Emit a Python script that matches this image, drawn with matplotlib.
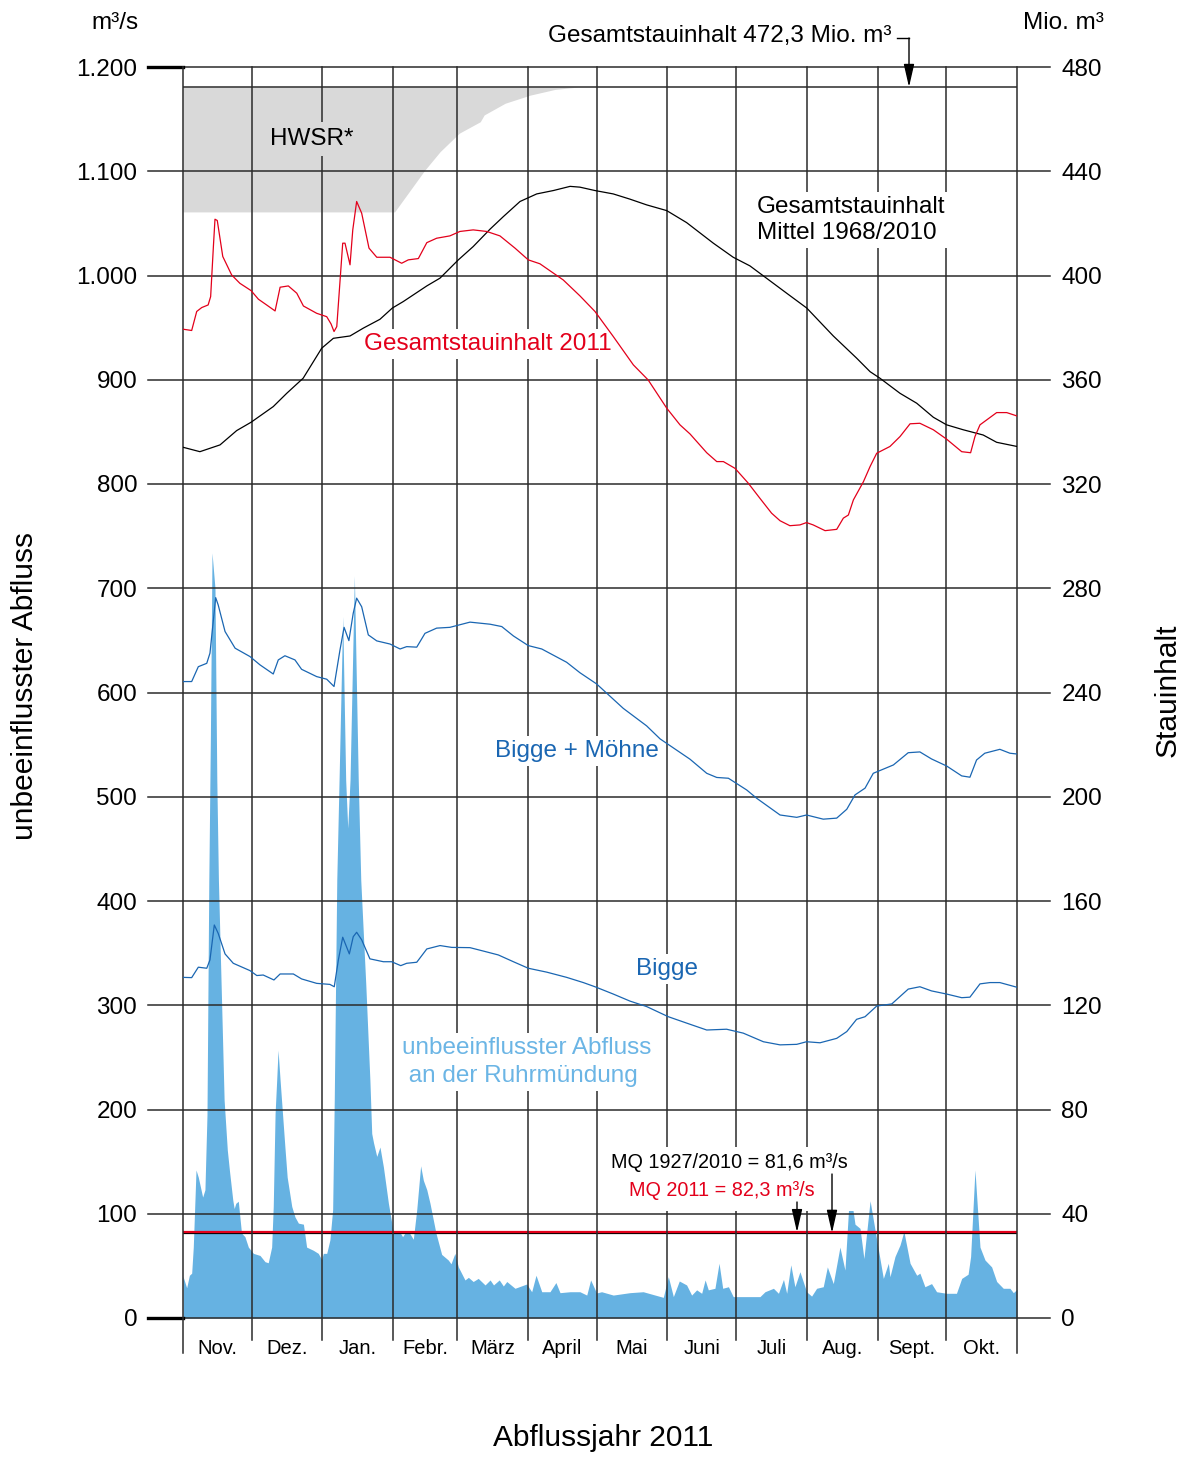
import numpy as np
import matplotlib
matplotlib.use('Agg')
import matplotlib.pyplot as plt
from matplotlib.transforms import Affine2D, blended_transform_factory
from matplotlib.patches import Rectangle

plt.rcParams['font.family'] = ['Liberation Sans', 'DejaVu Sans']

W, H, DPI = 1192, 1457, 100

# ---------------- data ----------------
months = ['Nov.', 'Dez.', 'Jan.', 'Febr.', 'März', 'April', 'Mai', 'Juni',
          'Juli', 'Aug.', 'Sept.', 'Okt.']
month_lengths = [30, 31, 31, 28, 31, 30, 31, 30, 31, 31, 30, 31]

q_ticks = [0, 100, 200, 300, 400, 500, 600, 700, 800, 900, 1000, 1100, 1200]
q_tick_labels = ['0', '100', '200', '300', '400', '500', '600', '700', '800',
                 '900', '1.000', '1.100', '1.200']
v_ticks = [0, 40, 80, 120, 160, 200, 240, 280, 320, 360, 400, 440, 480]
v_tick_labels = ['0', '40', '80', '120', '160', '200', '240', '280', '320',
                 '360', '400', '440', '480']

total_capacity = 472.3   # Mio. m3
mq_longterm = 81.6       # m3/s
mq_2011 = 82.3           # m3/s

# HWSR (flood protection space) lower boundary, Mio. m3
hwsr_days = [0, 92.6, 105.8, 112.5, 120.9, 130.1, 131.8, 141, 151.9, 162.8, 172.8]
hwsr_lower = [424.4, 424.4, 440.4, 447.5, 454.6, 459.0, 461.6, 466.1, 469.2, 471.4, 472.3]

# Gesamtstauinhalt Mittel 1968/2010 (Mio. m3)
mean_days = [0, 7.4, 16.2, 23.5, 29.8, 39.5, 45.4, 52.6, 60.7, 65.8, 73.1, 78.9, 86.2,
             91.6, 96.4, 106.7, 112.5, 120.5, 127.0, 134.4, 140.2, 147.5, 154.8, 162.1,
             169.4, 173.7, 180.3, 188.3, 195.6, 202.9, 211.7, 220.4, 232.1, 240.8, 248.1,
             264.2, 273.0, 284.6, 294.8, 300.7, 305.0, 313.8, 321.1, 328.4, 334.2, 341.5,
             350.2, 356.1, 365]
mean_vals = [334.1, 332.4, 335.0, 340.5, 343.7, 349.7, 354.8, 360.6, 372.1, 375.9, 376.8,
             379.8, 383.2, 387.5, 390.0, 396.0, 399.0, 406.0, 411.1, 417.8, 422.6, 428.4,
             431.3, 432.6, 434.2, 433.9, 432.6, 431.3, 429.3, 427.1, 424.9, 420.3, 412.4,
             407.0, 403.7, 393.2, 387.5, 376.8, 368.3, 363.1, 360.6, 354.8, 351.0, 345.6,
             342.7, 340.8, 338.8, 336.0, 334.4]

# Gesamtstauinhalt 2011 (Mio. m3)
red_days = [0, 3.8, 6, 8.2, 11, 12.1, 13.3, 14, 15, 17.4, 21.3, 24.9, 29.8, 33, 36.6,
            40.3, 42.5, 46.1, 49.8, 52.7, 58.5, 62.9, 64.8, 66.1, 67.3, 69.9, 70.9, 73.1,
            74.3, 76, 78.2, 81.4, 84.8, 90.6, 95.7, 98.6, 103, 106.7, 111, 116.8, 121.2,
            127, 132.9, 138.7, 145.3, 151.1, 156.2, 166.4, 173.7, 180.3, 188.3, 197.1,
            203.6, 211.7, 217.5, 221.9, 229.2, 233.6, 236.5, 241.6, 247.4, 252.5, 257.6,
            261.3, 265.6, 270, 272.9, 275.8, 281, 286.1, 289, 291.2, 293.4, 297.8, 300.7,
            303.6, 309.4, 313.8, 318.2, 322.5, 328.4, 334.2, 340.8, 344.7, 346.6, 348.8,
            356.1, 360.5, 365]
red_vals = [379.4, 378.9, 386.2, 387.7, 388.7, 391.9, 411.1, 421.6, 421.1, 407.3, 400.2,
            397.0, 394.2, 390.9, 388.7, 386.4, 395.5, 396.0, 393.2, 388.3, 385.5, 384.2,
            381.4, 378.5, 380.4, 412.4, 412.4, 404.1, 417.5, 428.4, 423.9, 410.5, 407.0,
            407.0, 404.7, 406.0, 406.5, 412.6, 414.3, 415.2, 416.9, 417.5, 416.9, 415.2,
            410.5, 406.0, 404.5, 398.3, 392.2, 386.2, 376.6, 365.7, 359.9, 349.1, 342.7,
            339.2, 332.0, 328.6, 328.6, 326.0, 320.3, 314.5, 308.8, 305.9, 304.0, 304.3,
            305.2, 304.3, 302.1, 302.6, 306.9, 308.1, 313.9, 320.9, 326.7, 331.8, 334.4,
            338.2, 343.1, 343.3, 340.8, 337.2, 332.4, 332.0, 338.2, 342.7, 347.4, 347.4,
            346.1]

# Bigge + Möhne (Mio. m3)
bm_days = [0, 3.8, 6.7, 10.4, 11.8, 13.3, 14.3, 15.4, 18.4, 22.8, 29.3, 33.7, 39.5, 41.7,
           44.6, 49, 51.9, 58.5, 62.9, 66.1, 68.7, 70.5, 72.6, 74.5, 76, 78.2, 81.1, 84.8,
           90.6, 95, 97.9, 102.3, 105.9, 111, 116.8, 125.6, 134.4, 139.5, 144.6, 151.1,
           157, 167.9, 173.7, 181, 192.7, 202.9, 208.8, 221.9, 229.2, 233.6, 238.7, 246.7,
           251.1, 261.3, 268.6, 272.9, 280.2, 286.1, 290.5, 294.1, 298.5, 302.1, 306.5,
           310.9, 317.4, 322.5, 327.6, 334.2, 340.8, 344.4, 347.3, 350.9, 357.5, 361.9, 365]
bm_vals = [244.2, 244.2, 249.9, 251.2, 255.1, 267.8, 276.4, 273.6, 263.4, 257.0, 253.8,
           250.6, 247.1, 252.5, 254.1, 252.5, 248.9, 246.1, 245.1, 242.3, 256.3, 265.0,
           259.9, 270.4, 276.2, 272.9, 262.1, 259.8, 258.6, 256.7, 257.6, 257.4, 262.7,
           264.7, 265.0, 267.0, 266.2, 265.3, 261.7, 258.0, 256.7, 251.6, 247.6, 243.3,
           233.9, 227.2, 222.2, 214.4, 209.0, 207.4, 207.1, 202.6, 199.4, 193.0, 192.1,
           193.0, 191.4, 191.8, 195.2, 200.7, 203.3, 209.0, 210.6, 212.2, 216.9, 217.2,
           214.5, 211.8, 208.0, 207.5, 214.1, 216.7, 218.2, 216.7, 216.4]

# Bigge (Mio. m3)
b_days = [0, 3.8, 6.7, 10.4, 11.8, 13.7, 15.4, 18.4, 22, 29.3, 32.3, 35.1, 39.8, 42.5,
          48.3, 51.9, 58.5, 64.3, 66.2, 68, 69.9, 72.8, 74.5, 76, 78.2, 81.8, 87.7, 91.3,
          95.3, 97.9, 102.3, 106.7, 112.5, 117.6, 125.6, 131.4, 138, 144.6, 151.1, 159.2,
          167.9, 175.2, 180.3, 188.3, 195.6, 202.9, 212.4, 221.9, 229.2, 237.9, 245.2,
          254, 261.3, 268.6, 272.9, 278.8, 286.1, 290.5, 294.8, 298.5, 303.6, 310.2,
          317.4, 322.5, 327.6, 334.2, 340.8, 344.4, 348.8, 353.2, 357.5, 365]
b_vals = [130.7, 130.6, 134.6, 134.2, 137.4, 150.8, 147.6, 139.7, 136.1, 133.3, 131.4,
          131.6, 129.7, 132.0, 132.0, 130.1, 128.4, 128.0, 127.1, 137.4, 146.1, 139.7,
          146.3, 148.0, 145.1, 137.8, 136.7, 136.7, 135.2, 136.1, 136.5, 141.6, 142.9,
          142.2, 142.1, 140.8, 139.3, 136.7, 134.2, 132.7, 130.7, 128.7, 127.1, 124.3,
          121.6, 119.5, 115.6, 112.7, 110.5, 110.8, 109.3, 106.0, 104.8, 105.0, 106.0,
          105.6, 107.3, 109.9, 114.6, 115.6, 119.7, 120.5, 126.2, 127.1, 125.5, 124.3,
          122.9, 123.1, 128.2, 128.7, 128.7, 126.9]

# unbeeinflusster Abfluss an der Ruhrmündung (m3/s)
q_days = [0, 1.6, 2.8, 3.8, 4.5, 5.7, 6.7, 8.6, 9.6, 10.5, 11.3, 12.0, 12.7, 14.0, 14.8,
          15.5, 18.0, 19.4, 20.4, 21.8, 22.4, 23.1, 24.2, 25.6, 27.1, 28.6, 30.8, 33.7,
          35.9, 37.3, 38.8, 39.5, 40.3, 41.0, 41.6, 42.5, 44.6, 45.6, 47.6, 49.0, 50.5,
          52.7, 54.1, 57.0, 59.2, 60.7, 61.4, 62.9, 64.3, 65.5, 66.2, 67.3, 68.3, 69.9,
          71.2, 72.1, 73.1, 75.0, 76.7, 77.8, 80.0, 81.8, 82.6, 83.4, 84.8, 86.2, 87.7,
          89.9, 92.0, 93.5, 94.6, 96.1, 97.6, 99.0, 100.8, 102.3, 104.0, 105.2, 106.7,
          108.1, 110.7, 113.2, 116.1, 117.3, 119.0, 120.5, 123.4, 124.9, 127.0, 129.2,
          132.2, 134.4, 135.9, 138.4, 140.2, 141.7, 145.3, 150.4, 152.6, 154.5, 157.0,
          160.6, 163.2, 165.0, 169.4, 173.7, 176.7, 178.4, 181.0, 183.2, 188.3, 195.6,
          201.4, 210.2, 212.4, 214.6, 217.2, 220.4, 222.6, 224.8, 227.0, 228.5, 229.9,
          232.8, 234.6, 236.2, 238.7, 240.8, 246.7, 252.5, 254.7, 258.4, 260.6, 262.8,
          264.2, 266.0, 267.8, 270.0, 272.9, 275.1, 277.3, 280.2, 282.0, 284.6, 287.5,
          289.7, 291.6, 292.6, 294.1, 296.3, 298.0, 300.7, 303.6, 306.5, 308.7, 309.4,
          311.6, 313.8, 315.5, 318.2, 321.1, 322.5, 324.7, 327.6, 329.8, 334.2, 338.5,
          340.8, 343.6, 344.7, 346.6, 348.8, 351.0, 353.9, 356.1, 359.0, 361.9, 363.4, 365]
q_vals = [40, 29, 41, 43, 68, 142, 135, 116, 123, 195, 420, 560, 734, 700, 516,
          420, 209, 161, 140, 113, 105, 110, 112, 81.5, 78, 68, 62, 60,
          54, 53, 68, 107, 196, 228, 257, 228, 164, 135, 107, 97, 91,
          90, 68, 65, 62, 56, 62, 62, 75, 104, 209, 420, 516, 673,
          516, 470, 516, 712, 516, 420, 320, 228, 177, 168, 155, 164, 145,
          110, 83, 81.5, 83.5, 78, 83, 82, 75.5, 104, 146, 132, 123,
          110, 81.5, 61, 55.6, 52, 62, 49, 36.5, 39, 35, 38,
          31.7, 36.5, 31.7, 36.5, 30.7, 35, 28.5, 32.6, 25.2, 41, 25.2,
          25.2, 34, 24.3, 25.2, 25.2, 22, 36.5, 24, 25.2, 22, 24.3,
          25.2, 19.8, 39.6, 20.5, 35.5, 31.7, 22, 27, 23.7, 36.5, 27,
          28.5, 52.5, 28.5, 30, 20.5, 20.5, 20.5, 25.2, 28.5, 23.7, 37,
          23.7, 51, 30, 44.4, 25.2, 21, 28.5, 30, 49, 33, 68,
          46, 116, 113, 90, 86, 57, 112.5, 75, 38, 52.5, 39.6,
          59, 70, 83, 52.5, 41, 43, 30, 33, 25.2, 23.7, 23.7,
          38, 42, 59, 142, 68, 55.6, 49, 35, 28.5, 28.5, 24.3, 27.5]

# ---------------- figure ----------------
RED = '#e3001b'
BLUE = '#1a66b2'
FILL = '#66b2e2'
LIGHT = '#6bb5e5'
GRAY = '#d9d9d9'
GRID = '#2b2b2b'

fig = plt.figure(figsize=(W / DPI, H / DPI), dpi=DPI)
fig.patch.set_facecolor('white')
ax = fig.add_axes([183 / W, 1 - 1318 / H, 834 / W, 1251 / H])
ax.set_xlim(0, sum(month_lengths))
ax.set_ylim(q_ticks[0], q_ticks[-1])
ax2 = ax.twinx()
ax2.set_ylim(v_ticks[0], v_ticks[-1])
for a in (ax, ax2):
    for s in a.spines.values():
        s.set_visible(False)

# pixel transform (reference pixel coords, y down)
T = Affine2D().scale(1 / W, -1 / H).translate(0, 1) + fig.transFigure

# discharge area
ax.fill_between(q_days, 0, q_vals, color=FILL, lw=0, zorder=1)
ax.axhline(mq_longterm, color='black', lw=1.6, zorder=2)
ax.axhline(mq_2011, color=RED, lw=1.6, zorder=3)

# HWSR
ax2.fill_between(hwsr_days, hwsr_lower, total_capacity, color=GRAY, lw=0, zorder=1)
ax2.axhline(total_capacity, color=GRID, lw=1.1, zorder=2)

# grid
x_left = (148 - 183) / 834
x_right = (1050 - 183) / 834
for v in v_ticks:
    ax2.axhline(v, xmin=x_left, xmax=x_right, color=GRID, lw=1.1, clip_on=False, zorder=2)
for v in (v_ticks[0], v_ticks[-1]):
    ax2.axhline(v, xmin=x_left, xmax=0, color='black', lw=2.4, clip_on=False, zorder=2)
bounds = np.concatenate([[0], np.cumsum(month_lengths)])
for i, b in enumerate(bounds):
    ymin = -(1353 - 1318) / 1251 if i in (0, len(bounds) - 1) else -(1340 - 1318) / 1251
    ax2.axvline(b, ymin=ymin, ymax=1, color=GRID, lw=1.1, clip_on=False, zorder=2)

# storage curves
ax2.plot(mean_days, mean_vals, color='black', lw=0.9, zorder=5)
ax2.plot(red_days, red_vals, color=RED, lw=0.9, zorder=5)
ax2.plot(bm_days, bm_vals, color=BLUE, lw=0.9, zorder=5)
ax2.plot(b_days, b_vals, color=BLUE, lw=0.9, zorder=5)

# ticks
mids = (bounds[:-1] + bounds[1:]) / 2
ax.set_xticks(mids, months)
ax.tick_params(axis='x', length=0, pad=15, labelsize=14.5)
ax.set_yticks(q_ticks, q_tick_labels)
ax.tick_params(axis='y', length=0, pad=33, labelsize=17.5)
ax2.set_yticks(v_ticks, v_tick_labels)
ax2.tick_params(axis='y', length=0, pad=32, labelsize=17.5)

# texts
wbox = dict(facecolor='white', edgecolor='none', pad=3)
ax2.text(115, 23, 'm³/s', transform=T, ha='center', va='center', fontsize=17.5)
ax2.text(1063, 23, 'Mio. m³', transform=T, ha='center', va='center', fontsize=17.5)
ax2.text(720, 36, 'Gesamtstauinhalt 472,3 Mio. m³', transform=T, ha='center',
         va='center', fontsize=17.5)
ax2.text(312, 139, 'HWSR*', transform=T, ha='center', va='center', fontsize=17.5,
         bbox=dict(facecolor=GRAY, edgecolor='none', pad=4), zorder=3)
ax2.text(757, 220, 'Gesamtstauinhalt\nMittel 1968/2010', transform=T, ha='left',
         va='center', fontsize=17.5, linespacing=1.25, bbox=wbox, zorder=3)
ax2.text(488, 344, 'Gesamtstauinhalt 2011', transform=T, ha='center', va='center',
         fontsize=17.5, color=RED, bbox=wbox, zorder=3)
ax2.text(577, 751, 'Bigge + Möhne', transform=T, ha='center', va='center',
         fontsize=17.5, color=BLUE, bbox=wbox, zorder=3)
ax2.text(667, 969, 'Bigge', transform=T, ha='center', va='center',
         fontsize=17.5, color=BLUE, bbox=wbox, zorder=3)
ax2.text(402, 1062, 'unbeeinflusster Abfluss\n an der Ruhrmündung', transform=T,
         ha='left', va='center', fontsize=17.5, color=LIGHT, linespacing=1.35,
         bbox=wbox, zorder=3)
ax2.add_patch(Rectangle((603, 1147), 254, 64, transform=T, facecolor='white',
                        edgecolor='none', zorder=3))
ax2.text(729, 1162, 'MQ 1927/2010 = 81,6 m³/s', transform=T, ha='center',
         va='center', fontsize=14.3, zorder=4)
ax2.text(722, 1190, 'MQ 2011 = 82,3 m³/s', transform=T, ha='center',
         va='center', fontsize=14.3, color=RED, zorder=4)

arrow = dict(arrowstyle='-|>,head_length=0.7,head_width=0.16', color='black',
             lw=1.0, shrinkA=0, shrinkB=0, mutation_scale=20)
bt_q = blended_transform_factory(T, ax.transData)
ax2.annotate('', xy=(797, mq_2011), xycoords=bt_q, xytext=(797, 1202), textcoords=T,
             arrowprops=arrow, zorder=6)
ax2.annotate('', xy=(832, mq_longterm), xycoords=bt_q, xytext=(832, 1174), textcoords=T,
             arrowprops=arrow, zorder=6)
bt_v = blended_transform_factory(T, ax2.transData)
ax2.plot([897, 909], [38, 38], transform=T, color='black', lw=1.0, clip_on=False)
ax2.annotate('', xy=(909, total_capacity), xycoords=bt_v, xytext=(909, 38), textcoords=T,
             arrowprops=arrow, zorder=6)

fig.text(603, 1438, 'Abflussjahr 2011', transform=T, ha='center', va='center',
         fontsize=21.5)
fig.text(25, 686, 'unbeeinflusster Abfluss', transform=T, ha='center', va='center',
         fontsize=21.5, rotation=90)
fig.text(1168, 690, 'Stauinhalt', transform=T, ha='center', va='center',
         fontsize=21.5, rotation=90)

fig.savefig('out.png', dpi=DPI, facecolor='white')
